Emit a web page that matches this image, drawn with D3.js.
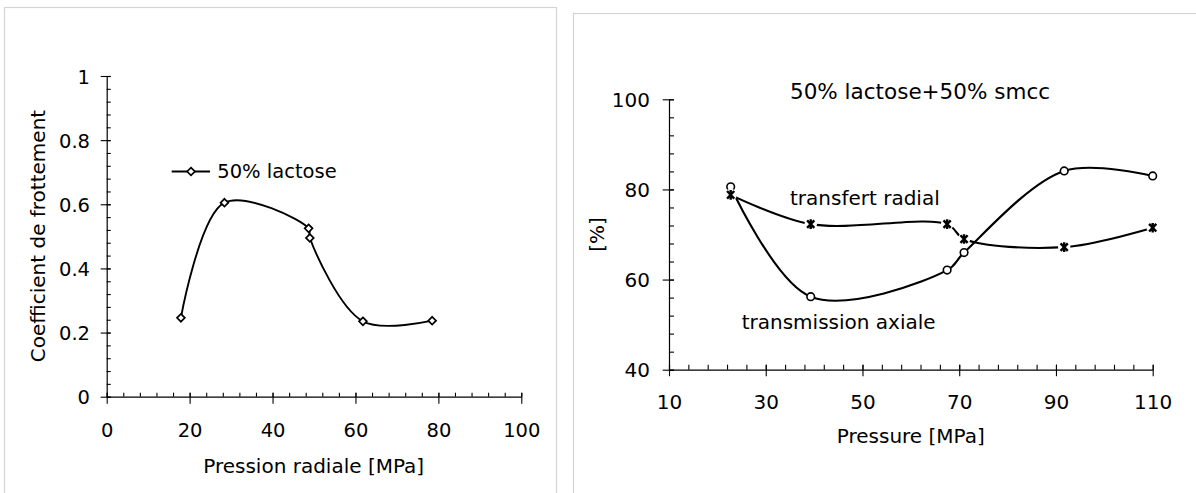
<!DOCTYPE html>
<html><head><meta charset="utf-8">
<script src="https://cdn.jsdelivr.net/npm/d3@7"></script>
<style>body{margin:0;background:#fff}svg{display:block;font-family:"DejaVu Sans",Verdana,sans-serif}</style>
</head><body>
<svg id="c" width="1196" height="493"></svg>
<script>
// ---- Left chart data ----
const leftX = [17.9, 28.4, 48.7, 49.0, 61.8, 78.5];
const leftY = [0.246, 0.605, 0.525, 0.495, 0.235, 0.237];
const leftXTicks = [0, 20, 40, 60, 80, 100];
const leftYTicks = [0, 0.2, 0.4, 0.6, 0.8, 1];
const leftLegend = "50% lactose";

// ---- Right chart data ----
const rightXTrans = [22.75, 39.3, 67.5, 71.0, 91.7, 110.0];
const rightYTrans = [80.6, 56.2, 62.1, 66.0, 84.1, 83.0];   // transmission axiale
const rightXRad   = [22.75, 39.3, 67.5, 71.0, 91.7, 110.0];
const rightYRad   = [78.8, 72.3, 72.3, 69.0, 67.2, 71.5];   // transfert radial
const rightXTicks = [10, 30, 50, 70, 90, 110];
const rightYTicks = [40, 60, 80, 100];

const svg = d3.select("#c");

// panel borders
svg.append("rect").attr("x",4.5).attr("y",7.5).attr("width",552).attr("height",520)
  .attr("fill","none").attr("stroke","#d4d4d4").attr("stroke-width",1.2);
svg.append("rect").attr("x",573.5).attr("y",13.5).attr("width",700).attr("height",520)
  .attr("fill","none").attr("stroke","#d4d4d4").attr("stroke-width",1.2);

function styleAxis(g, fs){
  g.select(".domain").attr("stroke","#000").attr("stroke-width",1.2);
  g.selectAll(".tick line").attr("stroke","#000").attr("stroke-width",1.1);
  g.selectAll("text").attr("font-size",fs).attr("fill","#000").attr("font-family","DejaVu Sans, Verdana, sans-serif");
}

function drawChart(o){
  const x = d3.scaleLinear().domain(o.xd).range(o.xr);
  const y = d3.scaleLinear().domain(o.yd).range(o.yr);
  const g = svg.append("g");
  const xmin = d3.range(o.xd[0], o.xd[1]+0.001, o.xminor);
  const ymin = d3.range(o.yd[0], o.yd[1]+0.0001, o.yminor);
  g.append("g").attr("transform",`translate(0,${o.yr[0]})`)
    .call(d3.axisBottom(x).tickValues(xmin).tickSize(-o.minorLen).tickFormat(""))
    .call(a=>{a.select(".domain").remove(); a.selectAll("line").attr("stroke","#000").attr("stroke-width",1.1);});
  g.append("g").attr("transform",`translate(${o.xr[0]},0)`)
    .call(d3.axisLeft(y).tickValues(ymin).tickSize(-o.minorLen).tickFormat(""))
    .call(a=>{a.select(".domain").remove(); a.selectAll("line").attr("stroke","#000").attr("stroke-width",1.1);});
  const gx = g.append("g").attr("transform",`translate(0,${o.yr[0]})`)
    .call(d3.axisBottom(x).tickValues(o.xt).tickSize(o.majDown).tickSizeOuter(0).tickFormat(d3.format("d")));
  gx.selectAll(".tick line").attr("y1",-o.majUp);
  gx.selectAll(".tick text").attr("y",o.xLabOff).attr("dy",0);
  styleAxis(gx, o.tickFs);
  const gy = g.append("g").attr("transform",`translate(${o.xr[0]},0)`)
    .call(d3.axisLeft(y).tickValues(o.yt).tickSize(o.majLeft).tickSizeOuter(0).tickFormat(o.yfmt));
  gy.selectAll(".tick line").attr("x1",o.majRight);
  gy.selectAll(".tick text").attr("x",-o.yLabOff).attr("dy","0.36em");
  styleAxis(gy, o.tickFs);
  return {x,y,g};
}

// ---------- LEFT ----------
const L = drawChart({xd:[0,100], xr:[106.7,521.3], yd:[0,1], yr:[396.7,76],
  xt:leftXTicks, yt:leftYTicks, xminor:4, yminor:0.04, minorLen:4,
  majDown:7, majUp:4, majLeft:6, majRight:4, xLabOff:40, yLabOff:16.7, tickFs:19.5,
  yfmt:d=>d===0?"0":d===1?"1":d3.format(".1f")(d)});
const leftData = leftX.map((v,i)=>({x:v,y:leftY[i]}));
L.g.append("path").datum(leftData)
  .attr("d", d3.line().x(d=>L.x(d.x)).y(d=>L.y(d.y)).curve(d3.curveCatmullRom.alpha(0.5)))
  .attr("fill","none").attr("stroke","#000").attr("stroke-width",1.9);
const diamond = "M0,-3.9L3.9,0L0,3.9L-3.9,0Z";
L.g.selectAll(".dm").data(leftData).join("path").attr("class","dm")
  .attr("transform",d=>`translate(${L.x(d.x)},${L.y(d.y)})`).attr("d",diamond)
  .attr("fill","#fff").attr("stroke","#000").attr("stroke-width",1.7);
// legend
L.g.append("line").attr("x1",171.7).attr("x2",210).attr("y1",171.5).attr("y2",171.5)
  .attr("stroke","#000").attr("stroke-width",1.9);
L.g.append("path").attr("d",diamond).attr("transform","translate(191,171.5)")
  .attr("fill","#fff").attr("stroke","#000").attr("stroke-width",1.7);
L.g.append("text").attr("x",217.3).attr("y",177.7).attr("font-size",19.5).attr("fill","#000").text(leftLegend);
// axis titles
L.g.append("text").attr("x",313.7).attr("y",473).attr("text-anchor","middle")
  .attr("font-size",20).attr("fill","#000").text("Pression radiale [MPa]");
L.g.append("text").attr("transform","translate(45,236) rotate(-90)").attr("text-anchor","middle")
  .attr("font-size",20).attr("fill","#000").text("Coefficient de frottement");

// ---------- RIGHT ----------
const R = drawChart({xd:[10,110], xr:[669,1152.7], yd:[40,100], yr:[369.7,99.3],
  xt:rightXTicks, yt:rightYTicks, xminor:4, yminor:4, minorLen:5,
  majDown:6.5, majUp:5, majLeft:6.3, majRight:5, xLabOff:39.3, yLabOff:19, tickFs:20,
  yfmt:d3.format("d")});
const trans = rightXTrans.map((v,i)=>({x:v,y:rightYTrans[i]}));
const rad = rightXRad.map((v,i)=>({x:v,y:rightYRad[i]}));
const lineR = d3.line().x(d=>R.x(d.x)).y(d=>R.y(d.y)).curve(d3.curveCatmullRom.alpha(0.5));
R.g.append("path").datum(trans).attr("d",lineR).attr("fill","none").attr("stroke","#000").attr("stroke-width",2.1);
R.g.append("path").datum(rad).attr("d",lineR).attr("fill","none").attr("stroke","#000").attr("stroke-width",2.1);
R.g.selectAll(".ci").data(trans).join("circle").attr("class","ci")
  .attr("cx",d=>R.x(d.x)).attr("cy",d=>R.y(d.y)).attr("r",3.8)
  .attr("fill","#fff").attr("stroke","#000").attr("stroke-width",1.6);
const star = R.g.selectAll(".st").data(rad).join("g").attr("class","st")
  .attr("transform",d=>`translate(${R.x(d.x)},${R.y(d.y)})`);
star.append("circle").attr("r",6.2).attr("fill","#fff");
star.append("path").attr("d","M-3.6,-3.8L3.6,3.8M-3.6,3.8L3.6,-3.8M0,-4.8L0,4.8")
  .attr("stroke","#000").attr("stroke-width",2.4).attr("fill","none");
// texts
R.g.append("text").attr("x",790).attr("y",99.3).attr("font-size",21.5).attr("fill","#000").text("50% lactose+50% smcc");
R.g.append("text").attr("x",790).attr("y",205).attr("font-size",20).attr("fill","#000").text("transfert radial");
R.g.append("text").attr("x",741.7).attr("y",329.3).attr("font-size",20).attr("fill","#000").text("transmission axiale");
R.g.append("text").attr("x",910.8).attr("y",443).attr("text-anchor","middle")
  .attr("font-size",20).attr("fill","#000").text("Pressure [MPa]");
R.g.append("text").attr("transform","translate(604,234.5) rotate(-90)").attr("text-anchor","middle")
  .attr("font-size",20).attr("fill","#000").text("[%]");
</script>
</body></html>
